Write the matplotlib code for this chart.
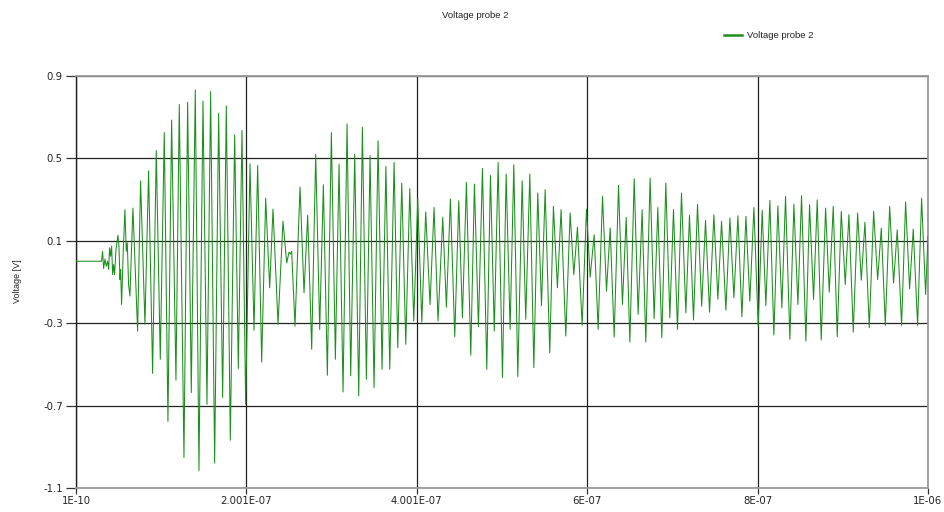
import matplotlib
matplotlib.use("Agg")
import matplotlib.pyplot as plt
from matplotlib.lines import Line2D

# ---- data (time in ns, voltage in V) ----
time_ns = [
    0.1, 30.1, 31.3, 32.5, 34.1, 35.6, 37.2, 38.4, 39.5, 40.7, 41.9, 43.1, 44.2, 45.4, 47.0,
    48.1, 49.3, 50.5, 51.7, 52.5, 53.6, 55.6, 57.5, 59.1, 60.3, 61.8, 63.4, 66.9, 72.4, 75.9,
    81.0, 85.3, 90.0, 94.3, 99.0, 103.7, 108.0, 112.3, 117.4, 121.3, 126.8, 131.1, 135.4,
    140.1, 144.4, 149.1, 153.8, 158.1, 162.8, 167.5, 172.2, 176.5, 181.2, 186.3, 190.6,
    194.9, 199.2, 204.3, 209.0, 213.3, 218.0, 222.7, 227.4, 231.3, 237.2, 243.0, 247.4,
    250.1, 251.7, 253.2, 257.1, 263.0, 267.7, 272.0, 276.7, 281.4, 286.1, 290.4, 295.1,
    299.8, 304.5, 308.8, 313.5, 318.2, 322.5, 327.2, 331.9, 336.2, 340.9, 345.2, 349.9,
    354.6, 359.3, 363.8, 368.3, 373.4, 377.7, 382.4, 387.1, 391.8, 396.5, 401.2, 405.9,
    410.5, 415.6, 420.3, 425.0, 430.5, 434.8, 439.5, 444.6, 449.3, 453.6, 458.3, 463.4,
    467.7, 472.4, 477.1, 482.2, 486.5, 491.0, 495.5, 500.6, 504.9, 509.6, 513.9, 518.6,
    523.7, 527.9, 532.7, 537.4, 542.0, 546.4, 550.7, 556.1, 560.4, 565.1, 569.4, 574.9,
    580.0, 584.3, 588.6, 594.1, 599.2, 603.5, 608.2, 612.9, 618.0, 622.7, 627.0, 631.7,
    636.8, 641.4, 645.8, 650.1, 655.2, 659.8, 664.5, 668.8, 673.9, 678.6, 682.9, 687.6,
    692.3, 697.0, 701.3, 706.0, 710.7, 715.8, 720.1, 724.8, 729.5, 734.4, 738.9, 743.6,
    748.7, 753.4, 757.7, 762.8, 767.5, 772.2, 776.9, 781.6, 786.3, 790.9, 795.7, 800.7,
    805.4, 809.7, 814.4, 819.1, 823.8, 828.5, 832.8, 837.9, 842.6, 847.3, 851.6, 856.7,
    861.0, 865.7, 870.0, 874.7, 879.8, 884.1, 888.8, 893.5, 898.2, 902.9, 907.2, 912.3,
    917.4, 921.7, 926.0, 931.1, 936.2, 940.9, 945.2, 949.9, 955.0, 959.6, 963.9, 969.0,
    973.7, 978.4, 982.7, 987.8, 992.5, 997.2, 1000.0,
]
voltage = [
    0.000, 0.000, 0.048, -0.035, 0.011, -0.024, 0.000, -0.040, 0.065, 0.024, 0.073, -0.065, -0.016, -0.065, 0.056,
    0.089, 0.126, 0.073, -0.089, -0.040, -0.210, 0.056, 0.250, 0.048, 0.089, -0.113, -0.169, 0.258, -0.339, 0.390,
    -0.306, 0.439, -0.544, 0.537, -0.476, 0.624, -0.777, 0.685, -0.577, 0.760, -0.952, 0.771, -0.637,
    0.831, -1.016, 0.777, -0.694, 0.823, -0.979, 0.718, -0.661, 0.753, -0.868, 0.613, -0.521,
    0.634, -0.694, 0.473, -0.335, 0.465, -0.489, 0.306, -0.129, 0.253, -0.306, 0.194, -0.008,
    0.044, 0.035, 0.048, -0.315, 0.360, -0.153, 0.223, -0.427, 0.519, -0.331, 0.371, -0.553,
    0.624, -0.476, 0.471, -0.634, 0.666, -0.556, 0.519, -0.653, 0.650, -0.573, 0.513, -0.613,
    0.585, -0.524, 0.460, -0.524, 0.479, -0.419, 0.379, -0.403, 0.352, -0.290, 0.302, -0.295,
    0.239, -0.210, 0.261, -0.290, 0.213, -0.223, 0.302, -0.366, 0.294, -0.274, 0.382, -0.456,
    0.374, -0.318, 0.450, -0.524, 0.416, -0.339, 0.479, -0.565, 0.423, -0.331, 0.468, -0.560,
    0.390, -0.282, 0.423, -0.516, 0.331, -0.215, 0.347, -0.444, 0.266, -0.129, 0.250, -0.363,
    0.234, -0.065, 0.165, -0.311, 0.253, -0.077, 0.129, -0.331, 0.315, -0.145, 0.161, -0.368,
    0.368, -0.210, 0.213, -0.392, 0.400, -0.258, 0.250, -0.392, 0.403, -0.279, 0.261, -0.371,
    0.379, -0.274, 0.250, -0.331, 0.331, -0.250, 0.223, -0.285, 0.276, -0.218, 0.198, -0.247,
    0.226, -0.185, 0.194, -0.237, 0.210, -0.177, 0.221, -0.269, 0.218, -0.194, 0.261, -0.315,
    0.247, -0.215, 0.295, -0.358, 0.269, -0.226, 0.315, -0.379, 0.277, -0.210, 0.318, -0.387,
    0.274, -0.185, 0.298, -0.382, 0.258, -0.150, 0.266, -0.366, 0.242, -0.113, 0.226, -0.344,
    0.234, -0.092, 0.189, -0.323, 0.242, -0.089, 0.161, -0.311, 0.266, -0.105, 0.153, -0.311,
    0.287, -0.134, 0.156, -0.311, 0.306, -0.161, 0.121,
]

x_ticks = [1e-10, 2.001e-7, 4.001e-7, 6e-7, 8e-7, 1e-6]
x_tick_labels = ["1E-10", "2.001E-07", "4.001E-07", "6E-07", "8E-07", "1E-06"]
y_ticks = [-1.1, -0.7, -0.3, 0.1, 0.5, 0.9]
y_tick_labels = ["-1.1", "-0.7", "-0.3", "0.1", "0.5", "0.9"]
series_name = "Voltage probe 2"
title_text = "Voltage probe 2"
y_label = "Voltage [V]"

time_s = [t * 1e-9 for t in time_ns]

plt.rcParams["font.family"] = ["DejaVu Sans"]
fig = plt.figure(figsize=(9.44, 5.12), dpi=100, facecolor="white")
ax = fig.add_axes([76 / 944, 1 - 488 / 512, (928 - 76) / 944, (488 - 75.7) / 512])

color = "#1c8f1c"
ax.plot(time_s, voltage, color=color, lw=0.75, zorder=3)

ax.set_xlim(1e-10, 1e-6)
ax.set_ylim(-1.1, 0.9)
ax.set_xticks(x_ticks)
ax.set_xticklabels(x_tick_labels)
ax.set_yticks(y_ticks)
ax.set_yticklabels(y_tick_labels)
ax.grid(True, color="#222222", lw=0.9, zorder=1)

ax.tick_params(axis="both", labelsize=7.3, labelcolor="#222222", color="#333333",
               width=0.9, direction="out")
ax.tick_params(axis="y", length=7.5, pad=2)
ax.tick_params(axis="x", length=4, pad=2)
for side in ["top", "right", "bottom"]:
    ax.spines[side].set_color("#9a9a9a")
    ax.spines[side].set_linewidth(1.3)
ax.spines["left"].set_color("#222222")
ax.spines["left"].set_linewidth(1.0)

fig.text(475 / 944, 1 - 15 / 512, title_text, ha="center", va="center",
         fontsize=6.8, color="#222222", family="Liberation Sans")
fig.text(17 / 944, 1 - 281 / 512, y_label, ha="center", va="center", rotation=90,
         fontsize=6.5, color="#222222", family="Liberation Sans")

handle = Line2D([0], [0], color=color, lw=1.8)
fig.legend([handle], [series_name], loc="center left",
           bbox_to_anchor=(724 / 944, 1 - 36 / 512), frameon=False,
           prop={"family": "Liberation Sans", "size": 6.8},
           handlelength=1.9, handletextpad=0.5, borderpad=0, borderaxespad=0,
           labelcolor="#222222")

fig.savefig("out.png", dpi=100, facecolor="white")
